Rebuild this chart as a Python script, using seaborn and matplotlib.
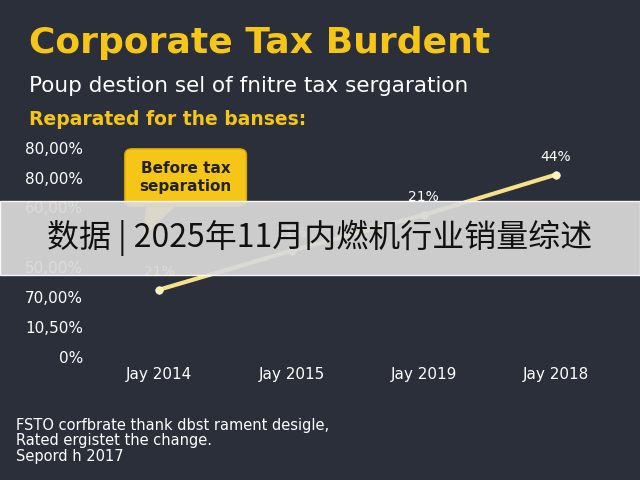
import matplotlib
matplotlib.use("Agg")
import matplotlib.pyplot as plt
import seaborn as sns
import pandas as pd
from matplotlib.patches import FancyBboxPatch, Polygon, Rectangle

years = ["Jay 2014", "Jay 2015", "Jay 2019", "Jay 2018"]
values = [2.25, 3.55, 4.75, 6.1]
point_labels = ["21%", "21%", "21%", "44%"]
ytick_labels = ["0%", "10,50%", "70,00%", "50,00%", "", "60,00%", "80,00%", "80,00%"]

sns.set_theme(style="dark")
plt.rcParams['font.family'] = ['DejaVu Sans', 'Noto Sans CJK SC']
bg = "#2a2f3a"
yellow = "#f5c518"

fig = plt.figure(figsize=(6.4, 4.8), dpi=100, facecolor=bg)
ax = fig.add_axes([0.156, 0.241, 0.814, 0.47])
ax.set_facecolor(bg)
df = pd.DataFrame({"x": range(len(years)), "y": values})
sns.lineplot(data=df, x="x", y="y", ax=ax, color="#f7e08a", linewidth=3)
sns.scatterplot(data=df, x="x", y="y", ax=ax, color="#fff3b0", s=30, zorder=5)
ax.set_xlim(-0.45, 3.49)
ax.set_ylim(-0.25, 7.3)
ax.set_xticks(range(len(years)))
ax.set_xticklabels(years, color="white", fontsize=11)
ax.set_yticks(range(len(ytick_labels)))
ax.set_yticklabels(ytick_labels, color="white", fontsize=11)
ax.tick_params(axis="y", length=0, pad=12)
ax.tick_params(axis="x", length=0, pad=2)
ax.set_xlabel(""); ax.set_ylabel("")
for s in ax.spines.values():
    s.set_visible(False)
ax.grid(False)
for i, (v, t) in enumerate(zip(values, point_labels)):
    ax.text(i, v + 0.45, t, color="white", fontsize=10, ha="center")

fig.text(0.045, 0.89, "Corporate Tax Burdent", color=yellow, fontsize=26, fontweight="bold")
fig.text(0.045, 0.808, "Poup destion sel of fnitre tax sergaration", color="white", fontsize=15.5)
fig.text(0.045, 0.74, "Reparated for the banses:", color=yellow, fontsize=13.5, fontweight="bold")

# callout
fig.patches.append(Polygon([[0.23, 0.58], [0.28, 0.58], [0.225, 0.51]],
                           closed=True, transform=fig.transFigure, color=yellow, zorder=3))
fig.patches.append(FancyBboxPatch((0.2, 0.575), 0.18, 0.11, boxstyle="round,pad=0.005,rounding_size=0.012",
                                  transform=fig.transFigure, facecolor=yellow, edgecolor="#d9a800", zorder=4))
fig.text(0.29, 0.63, "Before tax\nseparation", ha="center", va="center", fontsize=11,
         fontweight="bold", color="#222222", zorder=5)

# banner
fig.patches.append(Rectangle((0, 0.427), 1, 0.155, transform=fig.transFigure,
                             facecolor="#d9d9d9", alpha=0.93, zorder=10))
fig.text(0.5, 0.505, "数据 | 2025年11月内燃机行业销量综述", ha="center", va="center",
         fontsize=23, color="#111111", family=['Noto Sans CJK SC', 'DejaVu Sans'], zorder=11)

fig.text(0.025, 0.04, "FSTO corfbrate thank dbst rament desigle,\nRated ergistet the change.\nSepord h 2017",
         color="white", fontsize=10.5, linespacing=1.05)

fig.savefig("out.png", dpi=100, facecolor=bg)
